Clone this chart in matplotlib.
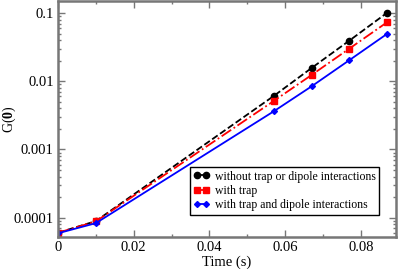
import matplotlib
matplotlib.use("Agg")
import matplotlib.pyplot as plt
from matplotlib.ticker import LogLocator, NullFormatter, MultipleLocator

plt.rcParams['font.family'] = ['Liberation Serif', 'DejaVu Serif']
plt.rcParams['mathtext.fontset'] = 'custom'
plt.rcParams['mathtext.rm'] = 'Liberation Serif'
plt.rcParams['mathtext.bf'] = 'Liberation Serif:bold'

# data
time = [0.0, 0.01, 0.057, 0.067, 0.077, 0.087]
no_trap = [6.0e-5, 8.9e-5, 0.0061, 0.0157, 0.0397, 0.102]
with_trap = [6.0e-5, 8.8e-5, 0.00515, 0.0124, 0.0303, 0.074]
trap_dipole = [5.9e-5, 8.3e-5, 0.00363, 0.00845, 0.0205, 0.050]

fig = plt.figure(figsize=(3.99, 2.69), dpi=100)
ax = fig.add_axes([58/399, 32/269, 338/399, 236/269])

ax.plot(time, no_trap, color='black', ls='--', lw=1.3, marker='o', ms=4.5,
        label='without trap or dipole interactions')
ax.plot(time, with_trap, color='red', ls='-.', lw=1.3, marker='s', ms=4,
        label='with trap')
ax.plot(time, trap_dipole, color='blue', ls='-', lw=1.3, marker='D', ms=3,
        label='with trap and dipole interactions')

ax.set_yscale('log')
ax.set_xlim(0, 0.0893)
ax.set_ylim(5.2e-5, 0.151)
ax.set_xticks([0, 0.02, 0.04, 0.06, 0.08])
ax.set_xticklabels(['0', '0.02', '0.04', '0.06', '0.08'])
ax.xaxis.set_minor_locator(MultipleLocator(0.01))
ax.set_yticks([1e-4, 1e-3, 1e-2, 1e-1])
ax.set_yticklabels(['0.0001', '0.001', '0.01', '0.1'])
ax.yaxis.set_minor_locator(LogLocator(base=10, subs=range(2, 10)))
ax.yaxis.set_minor_formatter(NullFormatter())

for s in ax.spines.values():
    s.set_color('#777777')
    s.set_linewidth(1.8)
ax.tick_params(which='both', direction='in', top=True, right=True,
               color='#777777', labelsize=10.5, pad=3)
ax.tick_params(which='major', length=5, width=1)
ax.tick_params(which='minor', length=2.5, width=1)

ax.set_xlabel('Time (s)', fontsize=10.5, labelpad=1)
ax.set_ylabel(r'G($\mathbf{0}$)', fontsize=10)
ax.yaxis.set_label_coords(-0.118, 0.5)

leg = ax.legend(loc='lower right', bbox_to_anchor=(0.95, 0.094), fontsize=8.5,
                numpoints=2, handlelength=1.4, handletextpad=0.4,
                borderpad=0.3, labelspacing=0.2, fancybox=False,
                framealpha=1, edgecolor='black', borderaxespad=0)
leg.get_frame().set_linewidth(1)

fig.savefig('out.png', dpi=100)
